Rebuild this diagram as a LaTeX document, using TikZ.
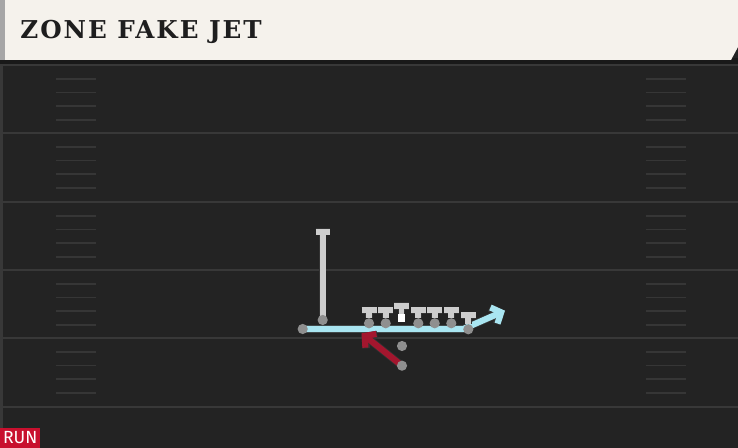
\documentclass[tikz,border=0pt]{standalone}
\usepackage{fontspec}
\setmainfont{DejaVu Serif}
\newfontfamily\titlefont[LetterSpace=8]{DejaVu Serif}
\newfontfamily\tagfont{Fira Sans}
\usetikzlibrary{arrows.meta}

\definecolor{fieldbg}{HTML}{232323}
\definecolor{yardline}{HTML}{383838}
\definecolor{hashmark}{HTML}{363636}
\definecolor{headerbg}{HTML}{F5F2EC}
\definecolor{titleink}{HTML}{1E1E1E}
\definecolor{teegray}{HTML}{CDCDCD}
\definecolor{dotgray}{HTML}{8F8F8F}
\definecolor{jetblue}{HTML}{A9E5F1}
\definecolor{runred}{HTML}{A3162E}
\definecolor{tagred}{HTML}{C8102E}

\pgfdeclarelayer{field}
\pgfdeclarelayer{routes}
\pgfsetlayers{field,routes,main}

\tikzset{
  dot/.style={circle, fill=dotgray, inner sep=0pt, minimum size=5.8pt},
  snap/.style={rectangle, fill=white, inner sep=0pt, minimum size=4.4pt},
  tee/.style={draw=teegray, line width=3.3pt, preaction={draw=black!80, line width=4.2pt}},
  jet/.style={draw=jetblue, line width=3.5pt, line join=round,
    -{Straight Barb[length=4.5pt, width=10pt]},
    preaction={draw=black!80, line width=4.4pt}},
  run/.style={draw=runred, line width=3.5pt,
    -{Straight Barb[length=4.5pt, width=10pt]},
    preaction={draw=black!80, line width=4.4pt}},
  hash/.style={draw=hashmark, line width=1pt},
  yard/.style={draw=yardline, line width=1.2pt}
}

\begin{document}
\begin{tikzpicture}[x=0.02cm, y=-0.02cm]
    \useasboundingbox (0,0) rectangle (738,448);

    % field
    \begin{pgfonlayer}{field}
    \fill [fieldbg] (0,0) rectangle (738,448);
    \draw [yard] (1.5,60) -- (1.5,448);
    \foreach \y in {65,133,202,270,338,407}
        \draw [yard] (0,\y) -- (738,\y);
    \foreach \b in {65,133,202,270,338}
        \foreach \k in {14,27.5,41,55} {
            \draw [hash] (56,\b+\k) -- (96,\b+\k);
            \draw [hash] (646,\b+\k) -- (686,\b+\k);
        }
    % header
    \fill [black!90] (0,58) rectangle (738,64);
    \fill [headerbg] (0,0) -- (738,0) -- (738,47) -- (731,60) -- (0,60) -- cycle;
    \fill [black!35] (0,0) rectangle (5,60);
    \end{pgfonlayer}

    \node [anchor=west, text=titleink, inner sep=0pt] (title) at (20,31.7)
        {\titlefont\fontsize{14}{14}\selectfont\bfseries ZONE FAKE JET};

    % players
    \node [dot] (wr) at (322.7,320) {};
    \node [dot] (mo) at (302.7,329) {};
    \node [snap] (c) at (401.5,318.3) {};
    \node [dot] (wing) at (468.3,329.3) {};
    \node [dot] (qb) at (402,346) {};
    \node [dot] (rb) at (402,365.7) {};
    \foreach \n/\x in {lt/369,lg/385.7,rg/418.3,rt/434.7,te/451.3} {
        \node [dot] (\n) at (\x,323.3) {};
        \draw [tee] (\n.north) -- ++(0,-7.5) ++(-7.5,0) -- ++(15,0);
    }
    \draw [tee] (c.north) -- ++(0,-8) ++(-7.5,0) -- ++(15,0);
    \draw [tee] (wing.north) -- ++(0,-8.5) ++(-7.5,0) -- ++(15,0);

    \coordinate (wrtop) at (322.7,231.7);
    \coordinate (jetturn) at (463.3,329);
    \coordinate (jetend) at (505,310.7);
    \coordinate (runend) at (361.5,333.3);

    % routes
    \begin{pgfonlayer}{routes}
    \draw [tee] (wr.center) -- (wrtop) ++(-7,0) -- ++(14,0);
    \draw [jet] (mo.center) -- (jetturn) -- (jetend);
    \draw [run] (rb.center) -- (runend);
    \end{pgfonlayer}

    \node [anchor=south west, fill=tagred, text=white, inner sep=0pt,
        minimum width=22.7pt, minimum height=11.3pt] (tag) at (0,448)
        {\tagfont\fontsize{10}{10}\selectfont RUN};
\end{tikzpicture}
\end{document}
